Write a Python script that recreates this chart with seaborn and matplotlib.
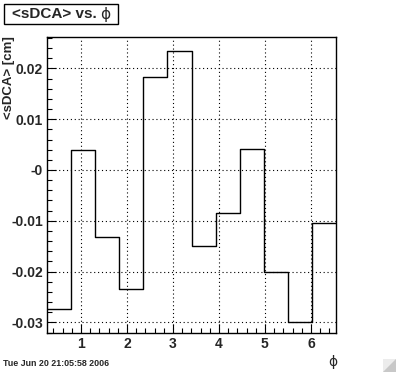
"""
Mean signed DCA per phi bin, drawn as a ROOT-style step histogram.
"""

import matplotlib
matplotlib.use("Agg")
import matplotlib.pyplot as plt
from matplotlib.patches import Rectangle, Polygon
from matplotlib.ticker import MultipleLocator
import seaborn as sns
import numpy as np
import pandas as pd

# 12 phi bins of width pi/6, starting at pi/12
N_BINS = 12
PHI_MIN = np.pi / 12
PHI_MAX = PHI_MIN + 2 * np.pi
mean_sdca = [-0.0274, 0.0039, -0.0132, -0.0234, 0.0184, 0.0234,
             -0.0150, -0.0085, 0.0041, -0.0201, -0.0299, -0.0104]

TITLE = "<sDCA> vs. "
PHI = "\u03d5"
Y_LABEL = "<sDCA> [cm]"
STAMP = "Tue Jun 20 21:05:58 2006"
Y_TICKS = [-0.03, -0.02, -0.01, 0.0, 0.01, 0.02]
Y_TICK_LABELS = ["-0.03", "-0.02", "-0.01", "-0", "0.01", "0.02"]
X_TICKS = [1, 2, 3, 4, 5, 6]

sns.set_theme(style="white")
plt.rcParams["font.family"] = ["Liberation Sans", "DejaVu Sans"]

edges = np.linspace(PHI_MIN, PHI_MAX, N_BINS + 1)
df = pd.DataFrame({"phi": edges, "sdca": mean_sdca + [mean_sdca[-1]]})

fig = plt.figure(figsize=(3.96, 3.72), dpi=100)
fig.patch.set_facecolor("white")
ax = fig.add_axes([47 / 396, 1 - 333 / 372, 289 / 396, 296.3 / 372])

sns.lineplot(data=df, x="phi", y="sdca", ax=ax, estimator=None,
             drawstyle="steps-post", color="black", linewidth=1.0)

ax.set_xlim(PHI_MIN, PHI_MAX)
ax.set_ylim(-0.03209, 0.02624)

ax.set_xticks(X_TICKS)
ax.set_xticklabels([str(t) for t in X_TICKS], fontweight="bold", fontsize=10)
ax.set_yticks(Y_TICKS)
ax.set_yticklabels(Y_TICK_LABELS, fontweight="bold", fontsize=10)
ax.xaxis.set_minor_locator(MultipleLocator(0.2))
ax.yaxis.set_minor_locator(MultipleLocator(0.002))
ax.tick_params(which="major", direction="in", length=6.5, width=0.8,
               color="black", pad=3, bottom=True, left=True, top=False, right=False)
ax.tick_params(which="minor", direction="in", length=3.5, width=0.8,
               color="black", bottom=True, left=True, top=False, right=False)
ax.grid(True, which="major", linestyle=(0, (1, 2.5)), color="black", linewidth=0.8)
ax.set_xlabel("")
ax.set_ylabel("")
for s in ax.spines.values():
    s.set_visible(True)
    s.set_color("black")
    s.set_linewidth(1.0)

# title box
fig.add_artist(Rectangle((3.5 / 396, 1 - 23.5 / 372), 114 / 396, 20 / 372,
                         transform=fig.transFigure, facecolor="white",
                         edgecolor="black", linewidth=1.0))
fig.text(12 / 396, 1 - 13.5 / 372, TITLE, ha="left", va="center",
         fontsize=11, fontweight="bold")
fig.text(105 / 396, 1 - 14 / 372, PHI, ha="center", va="center", fontsize=11,
         family=["DejaVu Sans"])

# axis labels
fig.text(9 / 396, 1 - 36 / 372, Y_LABEL, rotation=90, ha="center", va="top",
         fontsize=9.5, fontweight="bold")
fig.text(333 / 396, 1 - 362 / 372, PHI, ha="center", va="center", fontsize=10,
         family=["DejaVu Sans"])

# date stamp
fig.text(3 / 396, 1 - 364 / 372, STAMP, ha="left", va="center",
         fontsize=6.4, fontweight="bold")

# resize grip in the lower right corner
fig.add_artist(Rectangle((383 / 396, 0), 13 / 396, 13 / 372,
                         transform=fig.transFigure, facecolor="#ececec",
                         edgecolor="none"))
fig.add_artist(Polygon([(396 / 396, 13 / 372), (396 / 396, 0), (383 / 396, 0)],
                       closed=True, transform=fig.transFigure,
                       facecolor="#c8c8c8", edgecolor="none"))

fig.savefig("out.png", dpi=100)
plt.close(fig)
